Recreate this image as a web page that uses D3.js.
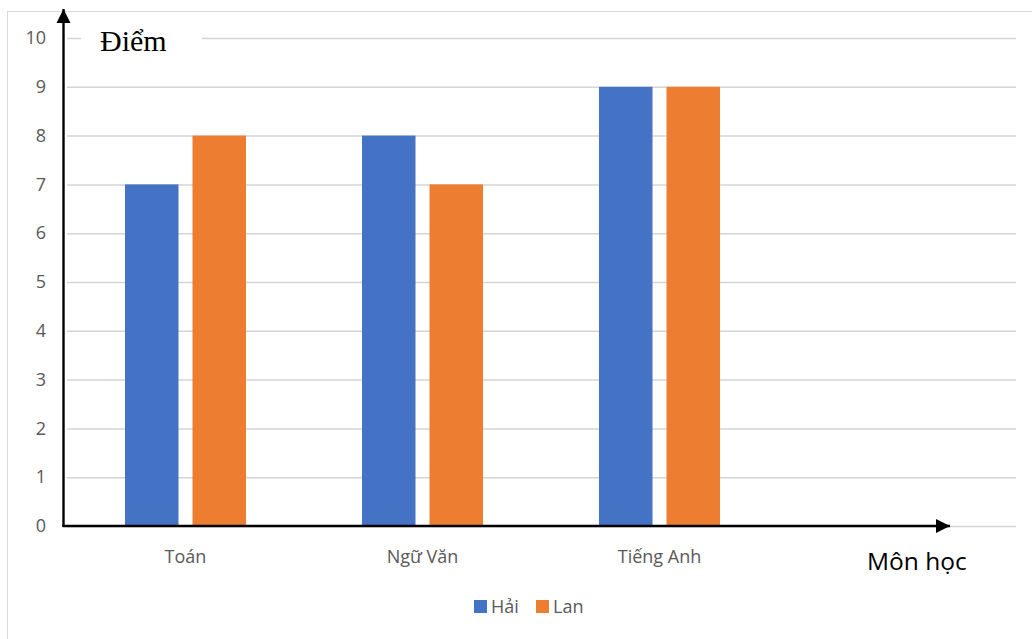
<!DOCTYPE html>
<html lang="vi">
<head>
<meta charset="utf-8">
<script src="https://cdn.jsdelivr.net/npm/d3@7"></script>
<style>
  html, body { margin: 0; padding: 0; background: #fff; }
  svg { display: block; }
</style>
</head>
<body>
<script>
// Điểm các môn học của Hải và Lan
const categories = ["Toán", "Ngữ Văn", "Tiếng Anh", ""];
const seriesNames = ["Hải", "Lan"];
const haiScores = [7, 8, 9, null];
const lanScores = [8, 7, 9, null];
const yTicks = [0, 1, 2, 3, 4, 5, 6, 7, 8, 9, 10];
const seriesColors = ["#4472C4", "#ED7D31"];

const W = 1032, H = 639;
const sansFont = "'Open Sans', 'Noto Sans', sans-serif";
const labelGray = "#595959";
const gridGray = "#d9d9d9";

const svg = d3.select("body").append("svg")
  .attr("width", W).attr("height", H);

// chart frame
svg.append("rect")
  .attr("x", 7.5).attr("y", 11.5)
  .attr("width", W + 10).attr("height", H + 10)
  .attr("fill", "#fff").attr("stroke", gridGray).attr("stroke-width", 1);

const plotLeft = 67, plotRight = 1015;
const y = d3.scaleLinear().domain([0, 10]).range([526, 38]);
const x0 = d3.scaleBand().domain(categories).range([plotLeft, plotRight]).padding(0);
const x1 = d3.scaleBand().domain(seriesNames).range([0, x0.bandwidth()])
  .paddingInner(0.2074).paddingOuter(0.859);

// horizontal gridlines
const grid = svg.append("g")
  .attr("transform", `translate(${plotLeft},0)`)
  .call(d3.axisLeft(y).tickValues(yTicks).tickSize(-(plotRight + 1 - plotLeft)).tickFormat(""));
grid.select(".domain").remove();
grid.selectAll(".tick line").attr("stroke", "#d4d4d4").attr("stroke-width", 1.5);

// y tick labels
const yAxis = svg.append("g")
  .attr("transform", "translate(46,0)")
  .call(d3.axisLeft(y).tickValues(yTicks).tickSize(0).tickPadding(0));
yAxis.select(".domain").remove();
yAxis.selectAll("text")
  .attr("font-family", sansFont).attr("font-size", 18)
  .attr("fill", labelGray);

// bars
const series = [haiScores, lanScores];
categories.forEach((cat, ci) => {
  seriesNames.forEach((name, si) => {
    const v = series[si][ci];
    if (v == null) return;
    svg.append("rect")
      .attr("x", x0(cat) + x1(name))
      .attr("y", y(v))
      .attr("width", x1.bandwidth())
      .attr("height", y(0) - y(v))
      .attr("fill", seriesColors[si]);
  });
});

// category labels
const xAxis = svg.append("g")
  .attr("transform", `translate(0,${y(0)})`)
  .call(d3.axisBottom(x0).tickSize(0).tickPadding(24));
xAxis.select(".domain").remove();
xAxis.selectAll("text")
  .attr("font-family", sansFont).attr("font-size", 18)
  .attr("fill", labelGray);

// axis arrows
const defs = svg.append("defs");
defs.append("marker")
  .attr("id", "arrowHead")
  .attr("viewBox", "0 0 10 10")
  .attr("refX", 10).attr("refY", 5)
  .attr("markerWidth", 6).attr("markerHeight", 6)
  .attr("markerUnits", "strokeWidth")
  .attr("orient", "auto")
  .append("path").attr("d", "M0,0 L10,5 L0,10 Z").attr("fill", "#000");

svg.append("line")
  .attr("x1", 63.5).attr("y1", y(0) + 1)
  .attr("x2", 63.5).attr("y2", 9)
  .attr("stroke", "#000").attr("stroke-width", 2.4)
  .attr("marker-end", "url(#arrowHead)");

svg.append("line")
  .attr("x1", 62.5).attr("y1", y(0))
  .attr("x2", 950).attr("y2", y(0))
  .attr("stroke", "#000").attr("stroke-width", 2.4)
  .attr("marker-end", "url(#arrowHead)");

// y axis title over the top gridline
svg.append("rect")
  .attr("x", 81).attr("y", 24).attr("width", 121).attr("height", 34)
  .attr("fill", "#fff");
svg.append("text")
  .attr("x", 100).attr("y", 51)
  .attr("font-family", "'Liberation Serif', 'Times New Roman', serif")
  .attr("font-size", 30).attr("fill", "#000")
  .text("Điểm");

// x axis title
svg.append("text")
  .attr("x", 867).attr("y", 570)
  .attr("font-family", sansFont).attr("font-size", 24.5).attr("fill", "#000")
  .text("Môn học");

// legend
const legend = svg.append("g").attr("transform", "translate(474,600)");
const legendX = [0, 62];
seriesNames.forEach((name, i) => {
  const g = legend.append("g").attr("transform", `translate(${legendX[i]},0)`);
  g.append("rect").attr("width", 13).attr("height", 13).attr("fill", seriesColors[i]);
  g.append("text")
    .attr("x", 17).attr("y", 13)
    .attr("font-family", sansFont).attr("font-size", 18).attr("fill", labelGray)
    .text(name);
});
</script>
</body>
</html>
